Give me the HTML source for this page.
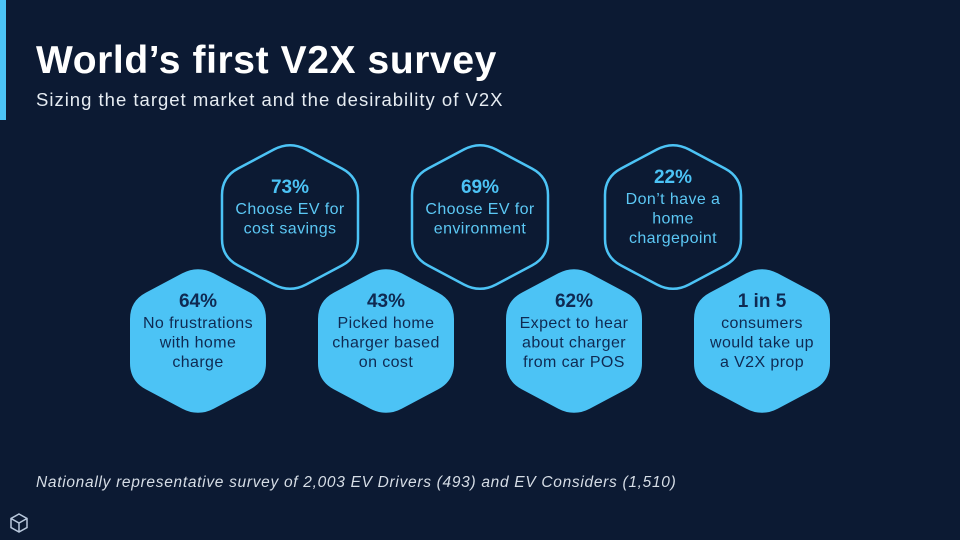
<!DOCTYPE html>
<html><head><meta charset="utf-8"><style>
body{margin:0;width:960px;height:540px;background:#0c1a33;overflow:hidden;font-family:"Liberation Sans",sans-serif}
svg{position:absolute;left:0;top:0}
</style></head><body>
<svg width="960" height="540">
<rect x="0" y="0" width="960" height="540" fill="#0c1a33"/>
<rect x="0" y="0" width="6" height="120" fill="#4cc3f5"/>
<text x="36" y="73" fill="#fff" font-size="39" font-weight="bold" letter-spacing="0.6">World’s first V2X survey</text>
<text x="36" y="106" fill="#e6ecf2" font-size="18.5" letter-spacing="1">Sizing the target market and the desirability of V2X</text>
<g id="hexes"></g>
<text x="36" y="487" fill="#d6dde6" font-size="15.5" font-style="italic" letter-spacing="0.7">Nationally representative survey of 2,003 EV Drivers (493) and EV Considers (1,510)</text>
<g transform="translate(19,523)" fill="none" stroke="#b9c8dc" stroke-width="1.5">
<path d="M0,-9 L8,-4.5 L8,4.5 L0,9 L-8,4.5 L-8,-4.5 Z M-8,-4.5 L0,0 L8,-4.5 M0,0 L0,9"/>
</g>
</svg>
<script>
const labels=["73%","69%","22%","64%","43%","62%","1 in 5"];
const texts=[["Choose EV for","cost savings"],["Choose EV for","environment"],["Don’t have a","home","chargepoint"],["No frustrations","with home","charge"],["Picked home","charger based","on cost"],["Expect to hear","about charger","from car POS"],["consumers","would take up","a V2X prop"]];
const cx=[290,480,673,198,386,574,762];
const cy=[217,217,217,341,341,341,341];
const filled=[false,false,false,true,true,true,true];
const ns="http://www.w3.org/2000/svg";
const g=document.getElementById('hexes');
function roundedPath(pts,r){
  let d='';
  const n=pts.length;
  for(let k=0;k<n;k++){
    const p=pts[k],a=pts[(k+n-1)%n],b=pts[(k+1)%n];
    const la=Math.hypot(a[0]-p[0],a[1]-p[1]),lb=Math.hypot(b[0]-p[0],b[1]-p[1]);
    const s=[p[0]+(a[0]-p[0])*r/la,p[1]+(a[1]-p[1])*r/la];
    const e=[p[0]+(b[0]-p[0])*r/lb,p[1]+(b[1]-p[1])*r/lb];
    d+=(k===0?'M':'L')+s[0].toFixed(1)+','+s[1].toFixed(1)+'Q'+p[0]+','+p[1]+' '+e[0].toFixed(1)+','+e[1].toFixed(1);
  }
  return d+'Z';
}
for(let i=0;i<labels.length;i++){
  const grp=document.createElementNS(ns,'g');
  
  
  const hw=68, ht=76, hs=40;
  const pts=[[0,-ht],[hw,-hs],[hw,hs],[0,ht],[-hw,hs],[-hw,-hs]].map(q=>[cx[i]+q[0],cy[i]+q[1]]);
  const p=document.createElementNS(ns,'path');
  p.setAttribute('d',roundedPath(pts,18));
  if(filled[i]){p.setAttribute('fill','#4cc3f5');}
  else{p.setAttribute('fill','none');p.setAttribute('stroke','#4cc3f5');p.setAttribute('stroke-width','2.5');}
  grp.appendChild(p);
  const n=texts[i].length;
  const top=cy[i]-(n===3?34:24);
  const t=document.createElementNS(ns,'text');
  t.setAttribute('x',cx[i]);t.setAttribute('y',top);t.setAttribute('text-anchor','middle');
  t.setAttribute('font-size','19');t.setAttribute('font-weight','bold');t.setAttribute('fill',filled[i]?'#0f2a52':'#4cc3f5');
  
  
  t.textContent=labels[i];grp.appendChild(t);
  for(let j=0;j<n;j++){
    const s=document.createElementNS(ns,'text');
    s.setAttribute('x',cx[i]);s.setAttribute('y',top+21+j*19.5);s.setAttribute('text-anchor','middle');
    s.setAttribute('font-size','16');s.setAttribute('letter-spacing','0.4');s.setAttribute('fill',filled[i]?'#0f2a52':'#5cc8f5');
    
    
    s.textContent=texts[i][j];grp.appendChild(s);
  }
  g.appendChild(grp);
}
</script>
</body></html>
